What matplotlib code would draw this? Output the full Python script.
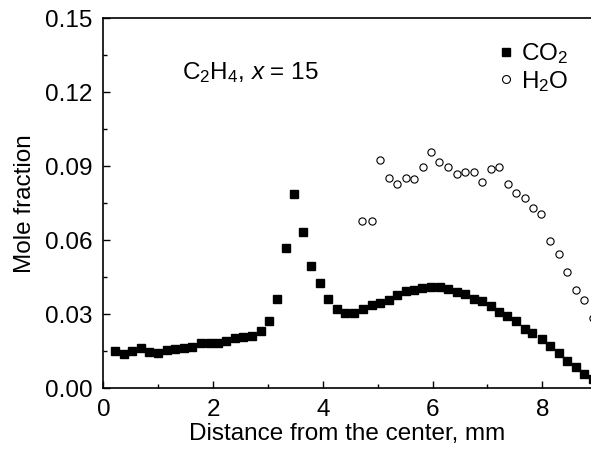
import numpy as np
import matplotlib
matplotlib.use("Agg")
import matplotlib.pyplot as plt
from matplotlib.ticker import MultipleLocator

plt.rcParams["font.family"] = ["Liberation Sans", "DejaVu Sans"]
plt.rcParams["mathtext.fontset"] = "custom"
plt.rcParams["mathtext.rm"] = "Liberation Sans"
plt.rcParams["mathtext.it"] = "Liberation Sans:italic"

# CO2 profile
co2_x = [0.22, 0.37, 0.53, 0.69, 0.84, 1.00, 1.15, 1.31, 1.47, 1.62,
         1.78, 1.94, 2.09, 2.24, 2.40, 2.55, 2.71, 2.87, 3.02, 3.17,
         3.33, 3.48, 3.63, 3.79, 3.95, 4.10, 4.26, 4.41, 4.57, 4.73,
         4.89, 5.04, 5.20, 5.35, 5.51, 5.67, 5.81, 5.97, 6.13, 6.28,
         6.44, 6.60, 6.75, 6.90, 7.07, 7.22, 7.36, 7.53, 7.68, 7.82,
         8.00, 8.15, 8.30, 8.46, 8.62, 8.77, 8.92]
co2_y = [0.0151, 0.0138, 0.0151, 0.0165, 0.0147, 0.0144, 0.0155, 0.0161, 0.0165, 0.0167,
         0.0182, 0.0185, 0.0185, 0.0192, 0.0203, 0.0208, 0.0211, 0.0231, 0.0274, 0.0361,
         0.0568, 0.0789, 0.0632, 0.0496, 0.0426, 0.0361, 0.0321, 0.0305, 0.0307, 0.0321,
         0.0339, 0.0346, 0.0359, 0.0377, 0.0393, 0.0399, 0.0408, 0.0412, 0.0411, 0.0404,
         0.0390, 0.0382, 0.0363, 0.0354, 0.0335, 0.0311, 0.0294, 0.0272, 0.0242, 0.0224,
         0.0200, 0.0171, 0.0142, 0.0111, 0.0088, 0.0059, 0.0038]

# H2O profile
h2o_x = [4.72, 4.89, 5.04, 5.20, 5.36, 5.52, 5.66, 5.82, 5.97, 6.12,
         6.28, 6.44, 6.59, 6.75, 6.91, 7.06, 7.22, 7.38, 7.53, 7.68,
         7.83, 7.98, 8.15, 8.30, 8.45, 8.62, 8.77, 8.92]
h2o_y = [0.0680, 0.0677, 0.0927, 0.0853, 0.0828, 0.0853, 0.0847, 0.0897, 0.0957, 0.0916,
         0.0897, 0.0870, 0.0878, 0.0878, 0.0836, 0.0889, 0.0897, 0.0830, 0.0791, 0.0770,
         0.0731, 0.0707, 0.0596, 0.0543, 0.0473, 0.0398, 0.0357, 0.0285]

fig = plt.figure(figsize=(5.91, 4.5), dpi=100)
ax = fig.add_axes([0.175, 0.137, 0.826, 0.822])

ax.plot(co2_x, co2_y, linestyle="none", marker="s", markersize=5.4,
        color="black", label="CO$_2$")
ax.plot(h2o_x, h2o_y, linestyle="none", marker="o", markersize=5.2,
        markerfacecolor="white", markeredgecolor="black", markeredgewidth=0.8,
        label="H$_2$O")

ax.set_xlim(0, 8.9)
ax.set_ylim(0, 0.15)
ax.xaxis.set_major_locator(MultipleLocator(2))
ax.xaxis.set_minor_locator(MultipleLocator(1))
ax.yaxis.set_major_locator(MultipleLocator(0.03))
ax.yaxis.set_minor_locator(MultipleLocator(0.015))
ax.yaxis.set_major_formatter(plt.FormatStrFormatter("%.2f"))

ax.tick_params(which="both", direction="in", labelsize=17.5, width=1.0, pad=8)
ax.tick_params(which="major", length=5)
ax.tick_params(which="minor", length=3)
ax.spines["right"].set_visible(False)
for s in ("left", "bottom", "top"):
    ax.spines[s].set_linewidth(1.2)

ax.set_xlabel("Distance from the center, mm", fontsize=17.5, labelpad=1)
ax.set_ylabel("Mole fraction", fontsize=17.5, labelpad=6)

ax.text(1.43, 0.128, "C$_2$H$_4$, $x$ = 15", fontsize=17.5, va="center")

leg = ax.legend(loc="upper right", bbox_to_anchor=(0.972, 0.965), frameon=False,
                fontsize=17.5, handletextpad=0.1, labelspacing=0.12,
                borderaxespad=0.0, handlelength=1.0, markerscale=1.1)

fig.savefig("out.png", dpi=100)
